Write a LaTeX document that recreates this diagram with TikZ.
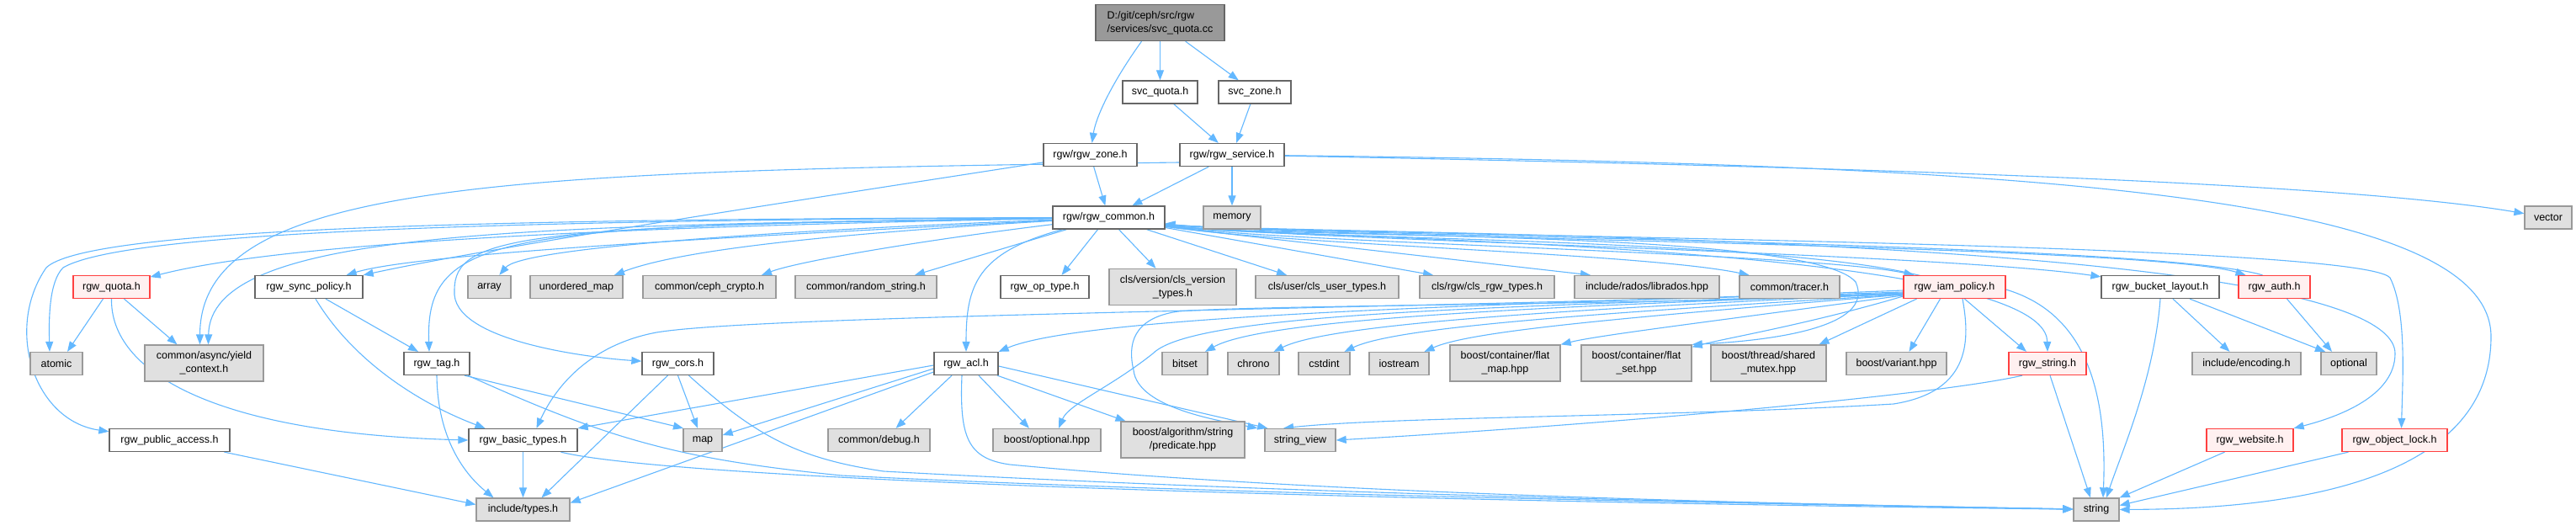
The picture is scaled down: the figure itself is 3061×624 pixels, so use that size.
\documentclass[tikz,border=0pt]{standalone}
\usepackage{fontspec}
\setmainfont{Liberation Sans}
\usetikzlibrary{arrows.meta}
\definecolor{edgec}{HTML}{63B8FF}
\definecolor{grayfill}{HTML}{E0E0E0}
\definecolor{graydraw}{HTML}{999999}
\definecolor{darkdraw}{HTML}{666666}
\definecolor{redfill}{HTML}{FFF0F0}
\definecolor{reddraw}{HTML}{FF4040}
\definecolor{topfill}{HTML}{999999}
\pgfdeclarelayer{bg}\pgfdeclarelayer{edges}\pgfsetlayers{bg,edges,main}
\begin{document}
\begin{tikzpicture}[x=1pt,y=-1pt,
 box/.style={line width=1.3pt, minimum height=27pt, inner sep=0pt, font=\fontsize{12.5}{16}\selectfont, align=center},
 wbox/.style={box, draw=darkdraw, fill=white},
 gbox/.style={box, draw=graydraw, fill=grayfill},
 rbox/.style={box, draw=reddraw, fill=redfill},
 topbox/.style={box, draw=darkdraw, fill=topfill, align=left},
 two/.style={minimum height=43pt},
 e/.style={draw=edgec, line width=1.1pt, -{Triangle[length=12pt,width=9pt]}}
]
\begin{pgfonlayer}{bg}
\fill[white] (0,0) rectangle (3061,624);
\end{pgfonlayer}
\useasboundingbox (0,0) rectangle (3061,624);

% row 0-2
\node[topbox,two,minimum width=153pt] (top) at (1378.5,27) {D:/git/ceph/src/rgw\\/services/svc\_quota.cc};
\node[wbox,minimum width=89pt] (svcq) at (1378.5,109.5) {svc\_quota.h};
\node[wbox,minimum width=86pt] (svcz) at (1491,109.5) {svc\_zone.h};
\node[wbox,minimum width=111pt] (zone) at (1295.5,184) {rgw/rgw\_zone.h};
\node[wbox,minimum width=124pt] (service) at (1464,184) {rgw/rgw\_service.h};
\node[wbox,minimum width=133pt] (common) at (1317.5,258.5) {rgw/rgw\_common.h};
\node[gbox,minimum width=68pt] (memory) at (1464,258.5) {memory};
\node[gbox,minimum width=56pt] (vector) at (3028,258.5) {vector};

% row 3
\node[rbox,minimum width=91pt] (quota) at (132.5,341) {rgw\_quota.h};
\node[wbox,minimum width=128pt] (sync) at (367,341) {rgw\_sync\_policy.h};
\node[gbox,minimum width=51pt] (array) at (581.5,341) {array};
\node[gbox,minimum width=110pt] (umap) at (685,341) {unordered\_map};
\node[gbox,minimum width=158pt] (crypto) at (843,341) {common/ceph\_crypto.h};
\node[gbox,minimum width=168pt] (rstring) at (1029,341) {common/random\_string.h};
\node[wbox,minimum width=105pt] (optype) at (1241.5,341) {rgw\_op\_type.h};
\node[gbox,two,minimum width=151pt] (clsver) at (1393.5,341) {cls/version/cls\_version\\\_types.h};
\node[gbox,minimum width=170pt] (clsuser) at (1577,341) {cls/user/cls\_user\_types.h};
\node[gbox,minimum width=160pt] (clsrgw) at (1767,341) {cls/rgw/cls\_rgw\_types.h};
\node[gbox,minimum width=172pt] (librados) at (1957,341) {include/rados/librados.hpp};
\node[gbox,minimum width=119pt] (tracer) at (2126.5,341) {common/tracer.h};
\node[rbox,minimum width=121pt] (iam) at (2322.5,341) {rgw\_iam\_policy.h};
\node[wbox,minimum width=140pt] (bucket) at (2567,341) {rgw\_bucket\_layout.h};
\node[rbox,minimum width=85pt] (auth) at (2702.5,341) {rgw\_auth.h};

% row 4
\node[gbox,minimum width=62pt] (atomic) at (67,432) {atomic};
\node[gbox,two,minimum width=141pt] (yield) at (242.5,431.5) {common/async/yield\\\_context.h};
\node[wbox,minimum width=78pt] (tag) at (519,432) {rgw\_tag.h};
\node[wbox,minimum width=85pt] (cors) at (805.5,432) {rgw\_cors.h};
\node[wbox,minimum width=76pt] (acl) at (1148,432) {rgw\_acl.h};
\node[gbox,minimum width=54pt] (bitset) at (1408,432) {bitset};
\node[gbox,minimum width=61pt] (chrono) at (1489.5,432) {chrono};
\node[gbox,minimum width=61pt] (cstdint) at (1573.5,432) {cstdint};
\node[gbox,minimum width=71pt] (iostream) at (1662.5,432) {iostream};
\node[gbox,two,minimum width=131pt] (fmap) at (1788.5,431.5) {boost/container/flat\\\_map.hpp};
\node[gbox,two,minimum width=131pt] (fset) at (1944.5,431.5) {boost/container/flat\\\_set.hpp};
\node[gbox,two,minimum width=137pt] (smutex) at (2101.5,431.5) {boost/thread/shared\\\_mutex.hpp};
\node[gbox,minimum width=119pt] (variant) at (2253.5,432) {boost/variant.hpp};
\node[rbox,minimum width=92pt] (rstr) at (2433,432) {rgw\_string.h};
\node[gbox,minimum width=129pt] (encoding) at (2669.5,432) {include/encoding.h};
\node[gbox,minimum width=66pt] (optional) at (2791,432) {optional};

% row 5
\node[wbox,minimum width=143pt] (pubacc) at (201.5,523) {rgw\_public\_access.h};
\node[wbox,minimum width=129pt] (basic) at (621.5,523) {rgw\_basic\_types.h};
\node[gbox,minimum width=46pt] (map) at (835,523) {map};
\node[gbox,minimum width=121pt] (debug) at (1044.5,523) {common/debug.h};
\node[gbox,minimum width=128pt] (boptional) at (1244,523) {boost/optional.hpp};
\node[gbox,two,minimum width=147pt] (pred) at (1405.5,522.5) {boost/algorithm/string\\/predicate.hpp};
\node[gbox,minimum width=84pt] (sview) at (1545,523) {string\_view};
\node[rbox,minimum width=103pt] (website) at (2673.5,523) {rgw\_website.h};
\node[rbox,minimum width=125pt] (olock) at (2845.5,523) {rgw\_object\_lock.h};

% row 6
\node[gbox,minimum width=111pt] (types) at (621.5,605.5) {include/types.h};
\node[gbox,minimum width=54pt] (string) at (2491,605.5) {string};

\begin{pgfonlayer}{edges}
% top level
\draw[e] (top) -- (svcq);
\draw[e] (top) -- (svcz);
\draw[e] ([xshift=-22pt]top.south) .. controls (1320,100) and (1302,140) .. (zone);
\draw[e] (svcq) -- (service);
\draw[e] (svcz) -- (service);
\draw[e] (zone) -- (common);
\draw[e] (zone) .. controls (1100,215) and (600,290) .. (sync.north east);
\draw[e] (service) -- (common);
\draw[e] (service) -- (memory);
\draw[e] (service) .. controls (2300,200) and (2800,220) .. (vector);
\draw[e] (service) .. controls (2400,195) and (2960,230) .. (2960,400) .. controls (2960,580) and (2700,605) .. (string);
\draw[e] ([yshift=-9pt]service.west) .. controls (600,203) and (238,215) .. ([xshift=-5pt]yield.north);

% rgw_common.h, left side
\draw[e] (common) .. controls (700,270) and (330,290) .. (quota);
\draw[e] (common) .. controls (500,262) and (140,280) .. (75,318) .. controls (58,335) and (58,380) .. ([xshift=-8pt]atomic.north);
\draw[e] (common) .. controls (500,260) and (100,275) .. (55,318) .. controls (5,390) and (40,500) .. (pubacc);
\draw[e] (common) .. controls (600,268) and (250,275) .. ([xshift=5pt]yield.north);
\draw[e] (common) .. controls (900,280) and (500,300) .. ([xshift=-20pt]sync.north east);
\draw[e] (common) .. controls (600,268) and (505,275) .. ([xshift=-9pt]tag.north);
\draw[e] (common) .. controls (620,268) and (540,280) .. (540,345) .. controls (535,405) and (700,425) .. (cors);
\draw[e] (common) .. controls (900,275) and (620,295) .. (array);
\draw[e] (common) .. controls (950,280) and (800,300) .. ([xshift=45pt]umap.north);
\draw[e] (common) .. controls (1100,285) and (950,310) .. ([xshift=62pt]crypto.north);
\draw[e] ([xshift=-50pt]common.south) -- ([xshift=58pt]rstring.north);
\draw[e] ([xshift=-13pt]common.south) -- ([xshift=20pt]optype.north);
\draw[e] ([xshift=12pt]common.south) -- ([xshift=-20pt]clsver.north);
\draw[e] ([xshift=45pt]common.south) -- ([xshift=-48pt]clsuser.north);
\draw[e] ([xshift=-55pt]common.south) .. controls (1160,300) and (1148,340) .. (acl);

% rgw_common.h, right side
\draw[e] ([yshift=-12pt]common.east) -- ([xshift=-64pt]clsrgw.north);
\draw[e] ([yshift=-11pt]common.east) -- ([xshift=-67pt]librados.north);
\draw[e] ([yshift=-10pt]common.east) .. controls (1500,290) and (1950,300) .. ([xshift=-48pt]tracer.north);
\draw[e] ([yshift=-10pt]common.east) .. controls (1500,288) and (2150,300) .. ([xshift=-48pt]iam.north);
\draw[e] ([yshift=-10pt]common.east) .. controls (1500,286) and (2320,280) .. (2332,355) .. controls (2340,400) and (2345,465) .. (2250,480) .. controls (2000,495) and (1650,495) .. ([xshift=-20pt]sview.north);
\draw[e] ([yshift=-9pt]common.east) .. controls (1500,285) and (2150,270) .. (2205,335) .. controls (2230,390) and (2100,405) .. (fset.north east);
\draw[e] ([yshift=-9pt]common.east) .. controls (1500,285) and (2430,285) .. (rstr.north);
\draw[e] ([yshift=-9pt]common.east) .. controls (1500,284) and (2300,300) .. ([yshift=-2pt]bucket.north west);
\draw[e] ([yshift=-8pt]common.east) .. controls (1500,282) and (2550,290) .. ([xshift=-34pt]auth.north);
\draw[e] ([xshift=-14pt]auth.north) .. controls (2550,286) and (1500,280) .. ([yshift=-7pt]common.east);
\draw[e] ([yshift=-8pt]common.east) .. controls (1500,280) and (2845,270) .. (2846,420) .. controls (2846,470) and (2780,495) .. (website.north east);
\draw[e] ([yshift=-8pt]common.east) .. controls (1500,280) and (2800,285) .. (2840,330) .. controls (2860,370) and (2855,450) .. ([xshift=8pt]olock.north);

% rgw_quota.h
\draw[e] ([xshift=-10pt]quota.south) -- ([xshift=13pt]atomic.north);
\draw[e] ([xshift=15pt]quota.south) -- ([xshift=-32pt]yield.north);
\draw[e] (quota.south) .. controls (131,440) and (250,515) .. (basic.west);

% rgw_sync_policy.h
\draw[e] ([xshift=20pt]sync.south) -- ([xshift=-22pt]tag.north);
\draw[e] ([xshift=8pt]sync.south) .. controls (420,430) and (500,480) .. ([xshift=-45pt]basic.north);

% rgw_tag.h
\draw[e] (tag.south) .. controls (520,530) and (560,570) .. ([xshift=-35pt]types.north);
\draw[e] ([xshift=33pt]tag.south) -- ([xshift=-23pt]map.north);
\draw[e] ([xshift=37pt]tag.south) .. controls (720,520) and (800,545) .. (1000,565) .. controls (1500,590) and (2200,600) .. (string);

% rgw_cors.h
\draw[e] (cors.south) -- ([xshift=-6pt]map.north);
\draw[e] ([xshift=-12pt]cors.south) -- ([xshift=22pt]types.north);
\draw[e] ([xshift=13pt]cors.south) .. controls (900,520) and (950,545) .. (1050,560) .. controls (1600,590) and (2200,600) .. (string);

% rgw_basic_types.h, rgw_public_access.h
\draw[e] (basic) -- (types);
\draw[e] ([xshift=45pt]basic.south) .. controls (800,570) and (1600,595) .. (string);
\draw[e] ([xshift=65pt]pubacc.south) -- ([yshift=6pt]types.west);

% rgw_acl.h
\draw[e] ([yshift=-2pt]acl.west) -- (basic.north east);
\draw[e] ([yshift=-6pt]acl.west) -- ([yshift=6pt]map.east);
\draw[e] ([yshift=-10pt]acl.west) -- ([yshift=8pt]types.east);
\draw[e] ([xshift=-17pt]acl.south) -- ([xshift=20pt]debug.north);
\draw[e] ([xshift=15pt]acl.south) -- ([xshift=-21pt]boptional.north);
\draw[e] ([xshift=37pt]acl.south) -- ([xshift=-68pt]pred.north);
\draw[e] ([yshift=-3pt]acl.east) -- ([xshift=4pt]sview.north west);
\draw[e] ([xshift=-5pt]acl.south) .. controls (1140,520) and (1150,545) .. (1200,552) .. controls (1600,590) and (2200,600) .. (string);

% rgw_iam_policy.h
\draw[e] ([yshift=-4pt]iam.west) .. controls (1900,360) and (1300,370) .. (acl.north east);
\draw[e] ([yshift=-6pt]iam.west) .. controls (1600,368) and (900,375) .. (780,395) .. controls (700,410) and (660,460) .. ([xshift=16pt]basic.north);
\draw[e] ([yshift=-7pt]iam.west) .. controls (1800,365) and (1420,370) .. (1370,420) .. controls (1320,460) and (1270,480) .. ([xshift=14pt]boptional.north);
\draw[e] ([yshift=-8pt]iam.west) .. controls (2000,362) and (1500,362) .. (1400,370) .. controls (1345,378) and (1340,410) .. (1347,440) .. controls (1352,485) and (1450,500) .. ([xshift=-8pt]sview.north west);
\draw[e] ([yshift=-8pt]iam.west) .. controls (1800,365) and (1500,380) .. ([xshift=24pt]bitset.north);
\draw[e] ([yshift=-8pt]iam.west) .. controls (1850,368) and (1580,385) .. ([xshift=24pt]chrono.north);
\draw[e] ([yshift=-9pt]iam.west) .. controls (1900,372) and (1660,388) .. ([xshift=24pt]cstdint.north);
\draw[e] ([yshift=-9pt]iam.west) .. controls (1950,376) and (1750,392) .. ([xshift=30pt]iostream.north);
\draw[e] ([yshift=-10pt]iam.west) .. controls (2050,380) and (1900,398) .. (fmap.north east);
\draw[e] ([yshift=-11pt]iam.west) .. controls (2150,385) and (2050,402) .. ([yshift=-3pt]fset.north east);
\draw[e] ([xshift=-45pt]iam.south) -- ([xshift=60pt]smutex.north);
\draw[e] ([xshift=-17pt]iam.south) -- ([xshift=15pt]variant.north);
\draw[e] ([xshift=12pt]iam.south) -- ([xshift=-25pt]rstr.north);
\draw[e] ([yshift=-3pt]iam.east) .. controls (2470,370) and (2505,450) .. ([xshift=8pt]string.north);

% rgw_string.h
\draw[e] ([xshift=-30pt]rstr.south) .. controls (2300,470) and (1900,505) .. (sview.east);
\draw[e] ([xshift=3pt]rstr.south) -- ([xshift=-7pt]string.north);

% rgw_bucket_layout.h, rgw_auth.h
\draw[e] (bucket.south) .. controls (2560,450) and (2520,540) .. ([xshift=12pt]string.north);
\draw[e] ([xshift=15pt]bucket.south) -- ([xshift=-20pt]encoding.north);
\draw[e] ([xshift=35pt]bucket.south) -- ([xshift=-28pt]optional.north);
\draw[e] ([xshift=15pt]auth.south) -- ([xshift=-20pt]optional.north);

% rgw_website.h, rgw_object_lock.h
\draw[e] ([xshift=-30pt]website.south) -- (string.north east);
\draw[e] ([xshift=-55pt]olock.south) -- ([yshift=5pt]string.east);
\end{pgfonlayer}
\end{tikzpicture}
\end{document}
